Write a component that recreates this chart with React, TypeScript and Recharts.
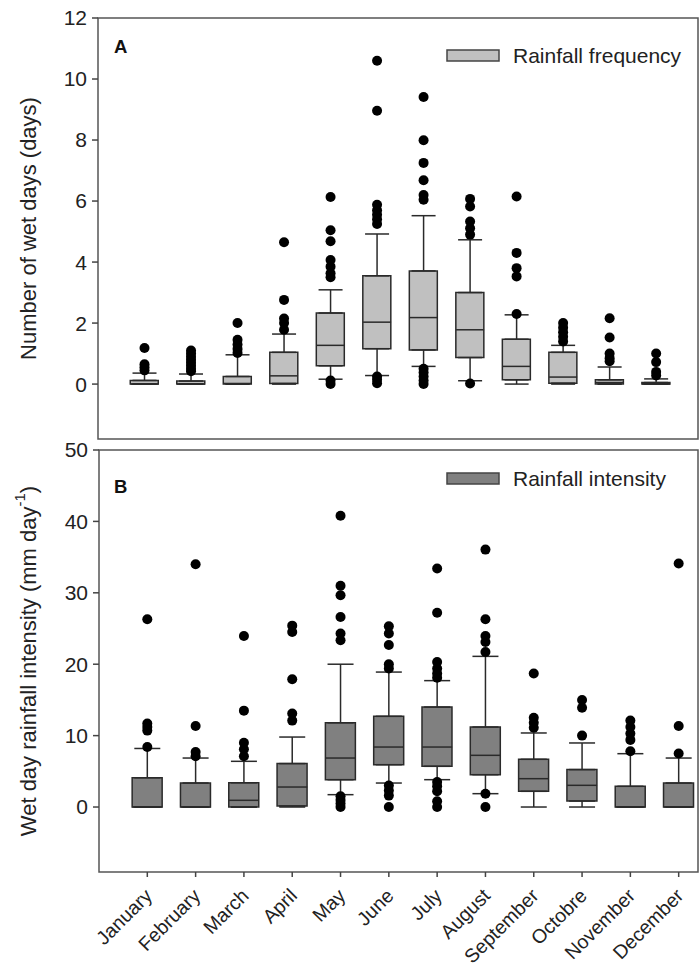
import React from "react";
import { Bar, ComposedChart, ErrorBar, ReferenceArea, Scatter, XAxis, YAxis } from "recharts";

const font = "'Liberation Sans', Arial, sans-serif";

const months = ["January", "February", "March", "April", "May", "June", "July", "August", "September", "Octobre", "November", "December"];
const monthTicks = months.map((_, i) => i + 1);

// A - rainfall frequency (days)
const freqLow = [0, 0, 0, 0, 0.16, 0.28, 0.58, 0.11, 0, 0, 0, 0];
const freqQ1 = [0, 0, 0, 0.02, 0.6, 1.16, 1.12, 0.87, 0.14, 0.03, 0, 0];
const freqMed = [0, 0, 0.02, 0.27, 1.27, 2.03, 2.18, 1.78, 0.58, 0.23, 0.05, 0];
const freqQ3 = [0.12, 0.1, 0.25, 1.04, 2.33, 3.55, 3.71, 3.0, 1.47, 1.04, 0.14, 0.05];
const freqHigh = [0.36, 0.33, 0.96, 1.64, 3.09, 4.92, 5.52, 4.73, 2.27, 1.27, 0.56, 0.17];
const freqOutliers = [
  [1.18, 0.65, 0.55, 0.45],
  [1.1, 1.0, 0.9, 0.8, 0.7, 0.6, 0.5, 0.42],
  [2.0, 1.45, 1.3, 1.15, 1.02],
  [4.65, 2.76, 2.15, 2.0, 1.78],
  [6.13, 5.04, 4.68, 4.07, 3.85, 3.63, 3.5, 0.12, 0.0],
  [10.6, 8.96, 5.88, 5.7, 5.55, 5.4, 5.25, 0.25, 0.14, 0.03],
  [9.41, 7.99, 7.25, 6.68, 6.2, 6.04, 0.5, 0.38, 0.25, 0.12, 0.0],
  [6.07, 5.82, 5.33, 5.11, 4.9, 0.02],
  [6.15, 4.3, 3.8, 3.53, 2.3],
  [2.0, 1.85, 1.7, 1.55, 1.4],
  [2.16, 1.53, 1.0, 0.85, 0.75],
  [1.0, 0.72, 0.4, 0.28],
];

// B - wet day rainfall intensity (mm/day)
const intLow = [0, 0, 0, 0, 1.73, 3.36, 3.83, 1.87, 0, 0, 0, 0];
const intQ1 = [0, 0, 0, 0.14, 3.83, 5.93, 5.7, 4.53, 2.2, 0.84, 0, 0];
const intMed = [0, 0, 0.94, 2.8, 6.86, 8.4, 8.4, 7.24, 3.97, 3.04, 0, 0];
const intQ3 = [4.1, 3.36, 3.4, 6.08, 11.8, 12.7, 14.0, 11.2, 6.68, 5.24, 2.9, 3.36];
const intHigh = [8.2, 6.86, 6.4, 9.8, 20.0, 18.9, 17.7, 21.1, 10.37, 8.97, 7.47, 6.86];
const intOutliers = [
  [26.3, 11.7, 11.2, 10.7, 8.4],
  [34.0, 11.35, 7.7, 7.1],
  [23.95, 13.5, 9.0, 8.1, 7.1],
  [25.4, 24.5, 17.9, 13.1, 12.1],
  [40.8, 31.0, 29.65, 26.6, 24.3, 23.35, 1.5, 1.0, 0.5, 0.0],
  [25.3, 24.3, 22.7, 20.0, 19.4, 3.0, 2.3, 1.6, 0.0],
  [33.4, 27.2, 20.3, 19.4, 18.7, 18.1, 3.5, 2.9, 2.2, 0.8, 0.0],
  [36.05, 26.3, 23.95, 23.1, 21.7, 1.87, 0.0],
  [18.7, 12.5, 11.8, 11.1],
  [15.0, 13.9, 10.0],
  [12.1, 11.2, 10.3, 9.4, 7.8],
  [34.1, 11.35, 7.5],
];

const buildBoxes = (lo: number[], q1: number[], med: number[], q3: number[], hi: number[]) =>
  months.map((m, i) => ({
    x: i + 1,
    box: [q1[i], q3[i]],
    q1: q1[i],
    q3: q3[i],
    med: med[i],
    errLow: [q1[i] - lo[i], 0],
    errHigh: [0, hi[i] - q3[i]],
  }));

const buildOutliers = (out: number[][]) => out.flatMap((vals, i) => vals.map((v) => ({ x: i + 1, v })));

const Empty = () => <g />;
const Dot = ({ cx, cy }: any) => <circle cx={cx} cy={cy} r={5} fill="#000" />;

const MonthTick = ({ x, y, payload }: any) => (
  <text x={x + 6} y={y + 18} textAnchor="end" transform={`rotate(-45 ${x + 6} ${y + 18})`}
    fontSize={19.5} fontFamily={font} fill="#222">
    {months[payload.value - 1]}
  </text>
);

interface PanelProps {
  boxes: any[];
  outliers: any[];
  width: number;
  height: number;
  top: number;
  yWidth: number;
  xHeight: number;
  xMax: number;
  yDomain: [number, number];
  yTicks: number[];
  fill: string;
  boxWidth: number;
  capWidth: number;
  label: any;
  showMonths: boolean;
}

const BoxPanel = (p: PanelProps) => {
  const Median = ({ cx, cy }: any) => (
    <line x1={cx - p.boxWidth / 2} x2={cx + p.boxWidth / 2} y1={cy} y2={cy} stroke="#2a2a2a" strokeWidth={1.5} />
  );
  return (
    <ComposedChart width={p.width} height={p.height} data={p.boxes} margin={{ top: p.top, right: 1, bottom: 0, left: 0 }}>
      <XAxis type="number" dataKey="x" domain={[0, p.xMax]} ticks={monthTicks} interval={0} height={p.xHeight}
        axisLine={false} tickSize={5} tickLine={{ stroke: "#444", strokeWidth: 1.5 }}
        tick={p.showMonths ? <MonthTick /> : false} />
      <YAxis type="number" domain={p.yDomain} ticks={p.yTicks} interval={0} width={p.yWidth} axisLine={false}
        tickSize={6} tickMargin={5} tickLine={{ stroke: "#444", strokeWidth: 1.5 }}
        tick={{ fontSize: 21, fontFamily: font, fill: "#222" }} label={p.label} />
      <ReferenceArea x1={0} x2={p.xMax} y1={p.yDomain[0]} y2={p.yDomain[1]} fill="none" stroke="#555" strokeWidth={1.5} />
      <Scatter data={p.boxes} dataKey="q1" shape={<Empty />} isAnimationActive={false}>
        <ErrorBar dataKey="errLow" direction="y" width={p.capWidth} stroke="#2a2a2a" strokeWidth={1.5} />
      </Scatter>
      <Scatter data={p.boxes} dataKey="q3" shape={<Empty />} isAnimationActive={false}>
        <ErrorBar dataKey="errHigh" direction="y" width={p.capWidth} stroke="#2a2a2a" strokeWidth={1.5} />
      </Scatter>
      <Bar dataKey="box" barSize={p.boxWidth} fill={p.fill} stroke="#2a2a2a" strokeWidth={1.5} isAnimationActive={false} />
      <Scatter data={p.boxes} dataKey="med" shape={<Median />} isAnimationActive={false} />
      <Scatter data={p.outliers} dataKey="v" shape={<Dot />} isAnimationActive={false} />
    </ComposedChart>
  );
};

const labelA = (props: any) => {
  const vb = props.viewBox;
  const x = vb.x + 28;
  const y = vb.y + vb.height / 2;
  return (
    <text x={x} y={y} transform={`rotate(-90 ${x} ${y})`} textAnchor="middle" dominantBaseline="central"
      fontSize={22} fontFamily={font} fill="#222">Number of wet days (days)</text>
  );
};

const labelB = (props: any) => {
  const vb = props.viewBox;
  const x = vb.x + 28;
  const y = vb.y + vb.height / 2;
  return (
    <text x={x} y={y} transform={`rotate(-90 ${x} ${y})`} textAnchor="middle" dominantBaseline="central"
      fontSize={22} fontFamily={font} fill="#222">
      Wet day rainfall intensity (mm day<tspan dy={-9} fontSize={15}>-1</tspan><tspan dy={9}>)</tspan>
    </text>
  );
};

export default function App() {
  const freqBoxes = buildBoxes(freqLow, freqQ1, freqMed, freqQ3, freqHigh);
  const intBoxes = buildBoxes(intLow, intQ1, intMed, intQ3, intHigh);
  return (
    <div style={{ position: "absolute", left: 0, top: 0, width: 699, height: 977, background: "#fff", overflow: "hidden" }}>
      <div style={{ position: "absolute", left: 0, top: 0 }}>
        <BoxPanel boxes={freqBoxes} outliers={buildOutliers(freqOutliers)} width={699} height={450} top={18}
          yWidth={98} xHeight={11} xMax={12.9} yDomain={[-1.8, 12]} yTicks={[0, 2, 4, 6, 8, 10, 12]}
          fill="#c0c0c0" boxWidth={28} capWidth={12} label={labelA} showMonths={false} />
      </div>
      <div style={{ position: "absolute", left: 0, top: 428 }}>
        <BoxPanel boxes={intBoxes} outliers={buildOutliers(intOutliers)} width={699} height={549} top={22}
          yWidth={99} xHeight={105} xMax={12.4} yDomain={[-9.1, 50]} yTicks={[0, 10, 20, 30, 40, 50]}
          fill="#808080" boxWidth={30} capWidth={13} label={labelB} showMonths={true} />
      </div>
      <svg width={699} height={977} style={{ position: "absolute", left: 0, top: 0, pointerEvents: "none" }}>
        <text x={114} y={53} fontSize={18.5} fontWeight="bold" fontFamily={font} fill="#111">A</text>
        <rect x={447} y={50} width={52} height={11} fill="#c0c0c0" stroke="#444" strokeWidth={1.5} />
        <text x={513} y={63} fontSize={21} fontFamily={font} fill="#222">Rainfall frequency</text>
        <text x={114} y={493} fontSize={18.5} fontWeight="bold" fontFamily={font} fill="#111">B</text>
        <rect x={447} y={473} width={52} height={11} fill="#808080" stroke="#444" strokeWidth={1.5} />
        <text x={513} y={486} fontSize={21} fontFamily={font} fill="#222">Rainfall intensity</text>
      </svg>
    </div>
  );
}
